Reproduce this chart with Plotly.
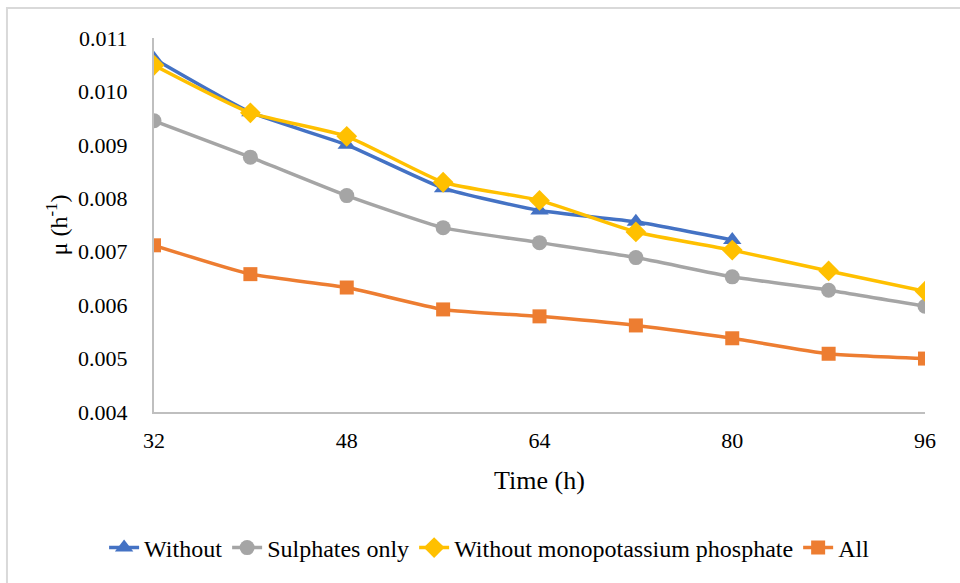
import plotly.graph_objects as go

time_h = [32, 40, 48, 56, 64, 72, 80, 88, 96]
without = [0.01061, 0.00961, 0.00900, 0.00819, 0.00777, 0.00756, 0.00722]
sulphates_only = [0.00945, 0.00877, 0.00805, 0.00745, 0.00717, 0.00689, 0.00653, 0.00628, 0.00598]
without_mkp = [0.01049, 0.00960, 0.00916, 0.00830, 0.00796, 0.00737, 0.00703, 0.00664, 0.00626]
all_nutr = [0.00712, 0.00658, 0.00633, 0.00592, 0.00579, 0.00562, 0.00538, 0.00509, 0.00500]
x_ticks = [32, 48, 64, 80, 96]
y_ticks = [0.004, 0.005, 0.006, 0.007, 0.008, 0.009, 0.010, 0.011]

FONT = "Liberation Serif, Times New Roman, serif"

series = [
    ("Without", time_h[:len(without)], without, "#4472C4", "triangle-up", 16),
    ("Sulphates only", time_h, sulphates_only, "#A5A5A5", "circle", 15),
    ("Without monopotassium phosphate", time_h, without_mkp, "#FFC000", "diamond", 16),
    ("All", time_h, all_nutr, "#ED7D31", "square", 14),
]

fig = go.Figure()
for name, xs, ys, color, sym, size in series:
    fig.add_trace(go.Scatter(
        x=xs, y=ys, name=name, mode="lines+markers",
        line=dict(color=color, width=3.5, shape="spline", smoothing=0.5),
        marker=dict(symbol=sym, size=size, color=color),
    ))

fig.update_layout(
    width=960, height=583,
    margin=dict(l=154, r=35, t=38, b=171),
    paper_bgcolor="white", plot_bgcolor="white",
    font=dict(family=FONT, size=22, color="black"),
    showlegend=True,
    legend=dict(orientation="h", xref="container", yref="container",
                x=0.51, y=0.06, xanchor="center", yanchor="middle",
                font=dict(family=FONT, size=24), itemwidth=30,
                tracegroupgap=0, bgcolor="rgba(0,0,0,0)"),
    xaxis=dict(range=[32, 96], tickvals=x_ticks, ticktext=[str(v) for v in x_ticks],
               showgrid=False, zeroline=False, showline=True, linecolor="#BFBFBF", linewidth=2,
               ticks="", tickfont=dict(size=22), ticklabelstandoff=8,
               title=dict(text="Time (h)", font=dict(size=26), standoff=18)),
    yaxis=dict(range=[0.004, 0.011], tickvals=y_ticks, ticktext=[f"{v:.3f}" for v in y_ticks],
               showgrid=False, zeroline=False, showline=True, linecolor="#BFBFBF", linewidth=2,
               ticks="", tickfont=dict(size=22), ticklabelstandoff=20,
               title=dict(text="μ (h<sup>-1</sup>)", font=dict(size=24), standoff=4)),
    shapes=[dict(type="rect", xref="paper", yref="paper",
                 x0=-0.1907, x1=1.06, y0=-0.48, y1=1.0802,
                 line=dict(color="#D9D9D9", width=2), fillcolor="rgba(0,0,0,0)", layer="below")],
)

fig.write_html("out.html")
